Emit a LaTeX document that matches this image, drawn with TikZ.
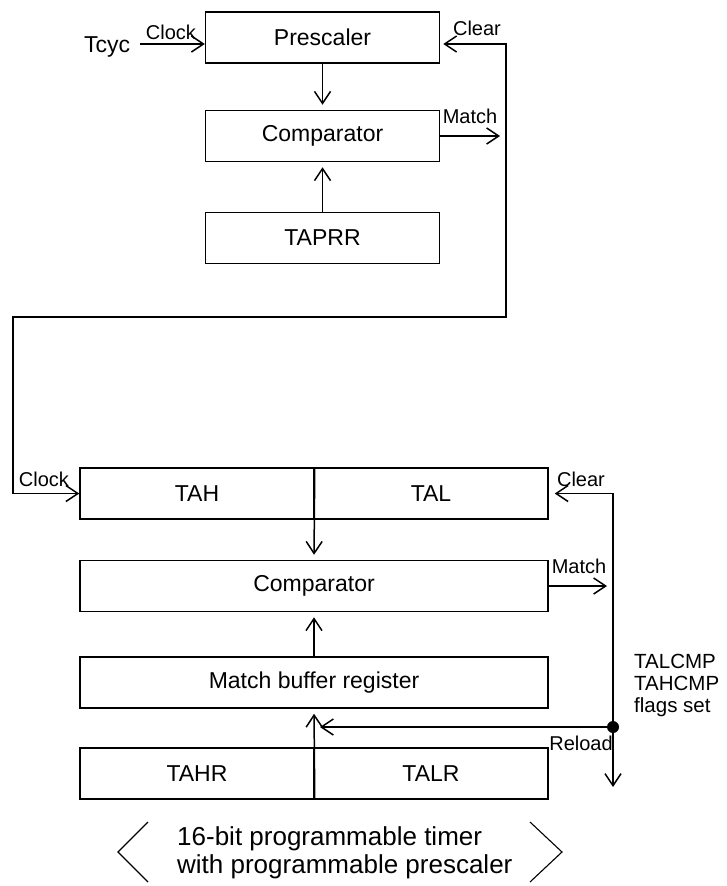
\documentclass[tikz,border=0pt]{standalone}
\usepackage{fontspec}
\setmainfont{Liberation Sans}
\usepackage{tikz}
\usetikzlibrary{arrows.meta,positioning}

\begin{document}
\begin{tikzpicture}[
  x=1pt, y=-1pt,
  box/.style={rectangle, draw=black, line width=1.5pt, minimum height=51pt, inner sep=0pt, font=\fontsize{23}{26}\selectfont},
  half/.style={box, minimum width=234pt},
  full/.style={box, minimum width=468pt},
  lab/.style={font=\fontsize{20}{22}\selectfont, inner sep=0pt, anchor=base},
  arr/.style={-{Straight Barb[length=12pt, width=16pt]}, line width=1.5pt, shorten >=5pt},
  arrboth/.style={{Straight Barb[length=12pt, width=16pt]}-{Straight Barb[length=12pt, width=16pt]}, line width=1.5pt},
  dotnode/.style={circle, fill=black, inner sep=0pt, minimum size=12pt}
]
\useasboundingbox (0,0) rectangle (727,886);
% prescaler stage
\node[half] (presc) at (322.5,37.5) {Prescaler};
\node[half] (cmpA) at (322.5,136) {Comparator};
\node[half] (taprr) at (322.5,238) {TAPRR};
\node[font=\fontsize{23}{26}\selectfont, inner sep=0pt, anchor=base] (tcyc) at (107,52) {Tcyc};
\coordinate (tcycIn) at (140,44);
\coordinate (matchA) at (500,136);
\coordinate (loopR) at (506,317);
\coordinate (loopL) at (13,317);
\draw[arr, shorten >=0pt] (tcycIn) -- (tcycIn -| presc.west);
\draw[arr] (presc.south) -- (cmpA.north);
\draw[arr] (taprr.north) -- (cmpA.south);
\draw[arr, shorten >=0pt] (cmpA.east) -- (matchA);
\node[lab] (clkA) at (171,39) {Clock};
\node[lab] (clrA) at (477,35) {Clear};
\node[lab] (mtchA) at (470,123) {Match};
% timer stage
\node[half] (tah) at (197,493.5) {TAH};
\node[half] (tal) at (431,493.5) {TAL};
\node[full] (cmpB) at (314,586) {Comparator};
\node[full] (mbr) at (314,682.5) {Match buffer register};
\node[half] (tahr) at (197,773.5) {TAHR};
\node[half] (talr) at (431,773.5) {TALR};
\node[dotnode] (rld) at (613,727) {};
\coordinate (matchB) at (607,586);
\coordinate (flagEnd) at (613,787);
\coordinate (rldEnd) at (320,727);
\draw[arrboth, shorten <=3pt] (presc.east |- tcycIn) -| (loopR) -- (loopL) |- (tah.west);
\draw[arr] (tah.north east) -- (cmpB.north);
\draw[arr] (mbr.north) -- (cmpB.south);
\draw[arr] (tahr.south east) -- (mbr.south);
\draw[arr, shorten >=0pt] (cmpB.east) -- (matchB);
\draw[arrboth, shorten <=6pt] (tal.east) -| (flagEnd);
\draw[arr, shorten >=0pt] (rld) -- (rldEnd);
\node[lab] (clkB) at (44,486) {Clock};
\node[lab] (clrB) at (581,486) {Clear};
\node[lab] (mtchB) at (579,573) {Match};
\node[lab] (rldLab) at (581,750) {Reload};
\node[font=\fontsize{20.5}{22}\selectfont, inner sep=0pt, anchor=north west, align=left] (flags) at (634,654) {TALCMP\\TAHCMP\\flags set};
% caption
\node[font=\fontsize{26}{28}\selectfont, inner sep=0pt, anchor=north west, align=left] (title) at (177,826) {16-bit programmable timer\\with programmable prescaler};
\draw[line width=1.1pt] (148,822) -- (118,852) -- (148,882);
\draw[line width=1.1pt] (530,822) -- (562,852) -- (530,882);
\end{tikzpicture}
\end{document}
